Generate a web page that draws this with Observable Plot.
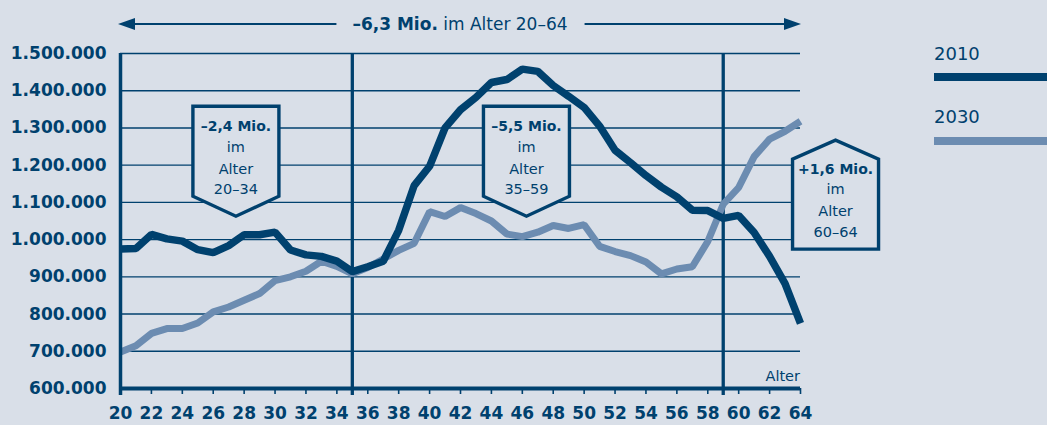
<!DOCTYPE html>
<html><head><meta charset="utf-8">
<script src="https://cdn.jsdelivr.net/npm/d3@7"></script>
<script src="https://cdn.jsdelivr.net/npm/@observablehq/plot@0.6"></script>
<style>
html,body{margin:0;padding:0;background:#d9dfe8;}
#chart svg{display:block;}
g[aria-label="x-axis tick label"], g[aria-label="y-axis tick label"]{font-weight:bold;font-size:17px;}
</style></head><body><div id="chart"></div>
<script>
// ---- data ----
const ages = [20,21,22,23,24,25,26,27,28,29,30,31,32,33,34,35,36,37,38,39,40,41,42,43,44,45,46,47,48,49,50,51,52,53,54,55,56,57,58,59,60,61,62,63,64];
const pop2010 = [975000,976000,1014000,1002000,996000,973000,965000,984000,1013000,1013000,1020000,972000,959000,955000,942000,914000,927000,942000,1025000,1145000,1197000,1300000,1349000,1382000,1422000,1430000,1458000,1452000,1414000,1385000,1355000,1305000,1240000,1207000,1172000,1141000,1115000,1079000,1078000,1057000,1065000,1019000,955000,882000,775000];
const pop2030 = [698000,715000,748000,761000,761000,776000,806000,819000,837000,855000,890000,900000,915000,942000,928000,908000,925000,948000,971000,990000,1075000,1062000,1086000,1070000,1050000,1015000,1008000,1020000,1038000,1030000,1040000,982000,968000,957000,940000,908000,921000,927000,995000,1095000,1140000,1223000,1270000,1291000,1318000];
const seriesNames = ["2010", "2030"];
const xTicks = [20,22,24,26,28,30,32,34,36,38,40,42,44,46,48,50,52,54,56,58,60,62,64];
const yTicks = [600000,700000,800000,900000,1000000,1100000,1200000,1300000,1400000,1500000];
const separators = [35, 59];
const totalBold = "–6,3 Mio.";
const totalRest = " im Alter 20–64";
const axisName = "Alter";
const boxHead = ["–2,4 Mio.", "–5,5 Mio.", "+1,6 Mio."];
const boxRange = ["20–34", "35–59", "60–64"];
const boxAge = [27.5, 46.3, 66.3];
const boxValue = [1357000, 1357000, 973000];
const boxPoint = ["down", "down", "up"];

// ---- style ----
const bg = "#d9dfe8", dark = "#00416e", light = "#6c8cb1";

const rows = ages.flatMap((a, i) => [
  {age: a, value: pop2010[i], series: seriesNames[0]},
  {age: a, value: pop2030[i], series: seriesNames[1]}
]);
const fmt = d3.formatLocale({decimal: ",", thousands: ".", grouping: [3], currency: ["", "€"]}).format(",d");

const chart = Plot.plot({
  width: 1047, height: 425,
  marginLeft: 120, marginRight: 247, marginTop: 53, marginBottom: 37,
  style: {background: bg, color: dark, fontFamily: "DejaVu Sans, sans-serif", overflow: "visible"},
  x: {domain: [20, 64]},
  y: {domain: [600000, 1500000]},
  marks: [
    Plot.ruleY(yTicks.slice(1), {stroke: dark, strokeWidth: 1.4}),
    Plot.ruleX(separators, {stroke: dark, strokeWidth: 3.3, insetBottom: -7}),
    Plot.axisX(xTicks, {tickSize: 6, tickPadding: 12, fontSize: 17, fontWeight: "bold", label: null, strokeWidth: 1.6}),
    Plot.axisY(yTicks, {tickSize: 0, tickPadding: 14, tickFormat: fmt, fontSize: 17, fontWeight: "bold", label: null}),
    Plot.line(rows.filter(d => d.series === seriesNames[1]), {x: "age", y: "value", stroke: light, strokeWidth: 7, strokeLinejoin: "miter", strokeLinecap: "butt"}),
    Plot.line(rows.filter(d => d.series === seriesNames[0]), {x: "age", y: "value", stroke: dark, strokeWidth: 7.5, strokeLinejoin: "miter", strokeLinecap: "butt"}),
    Plot.ruleX([20], {stroke: dark, strokeWidth: 3.5, insetBottom: -7}),
    Plot.ruleY([600000], {stroke: dark, strokeWidth: 4})
  ]
});
document.getElementById("chart").appendChild(chart);

const svg = d3.select(chart);
const sx = chart.scale("x"), sy = chart.scale("y");
const X = v => sx.apply(v), Y = v => sy.apply(v);
const ff = "DejaVu Sans, sans-serif";

// axis name
svg.append("text").attr("x", X(64)).attr("y", Y(600000) - 7).attr("text-anchor", "end")
  .attr("font-family", ff).attr("font-size", 14.5).attr("fill", dark).text(axisName);

// top arrow with total label
const xl = X(20), xr = X(64), ay = 24;
const t = svg.append("text").attr("x", (xl + xr) / 2).attr("y", 30).attr("text-anchor", "middle")
  .attr("font-family", ff).attr("font-size", 17).attr("fill", dark);
t.append("tspan").attr("font-weight", "bold").text(totalBold);
t.append("tspan").text(totalRest);
const bb = t.node().getBBox();
const ag = svg.append("g").attr("stroke", dark).attr("fill", dark);
ag.append("line").attr("x1", xl + 10).attr("x2", bb.x - 16).attr("y1", ay).attr("y2", ay).attr("stroke-width", 2);
ag.append("line").attr("x1", bb.x + bb.width + 17).attr("x2", xr - 10).attr("y1", ay).attr("y2", ay).attr("stroke-width", 2);
ag.append("path").attr("stroke", "none").attr("d", `M${xl - 2},${ay} L${xl + 15},${ay - 6} L${xl + 15},${ay + 6} Z`);
ag.append("path").attr("stroke", "none").attr("d", `M${xr + 1},${ay} L${xr - 16},${ay - 6} L${xr - 16},${ay + 6} Z`);

// legend
const lx = 934;
[[seriesNames[0], dark, 60, 77], [seriesNames[1], light, 123, 141]].forEach(([name, col, ty, ly]) => {
  svg.append("text").attr("x", lx).attr("y", ty).attr("text-anchor", "start").attr("font-family", ff).attr("font-size", 18)
    .attr("fill", dark).text(name);
  svg.append("rect").attr("x", lx).attr("y", ly - 4).attr("width", 1047 - lx).attr("height", 8).attr("fill", col);
});

// annotation boxes
const w = 86, h = 90, p = 20;
boxHead.forEach((head, i) => {
  const cx = X(boxAge[i]), ay0 = Y(boxValue[i]);
  const g = svg.append("g");
  let pts, top;
  if (boxPoint[i] === "down") {
    top = ay0;
    pts = [[cx - w/2, top], [cx + w/2, top], [cx + w/2, top + h], [cx, top + h + p], [cx - w/2, top + h]];
  } else {
    top = ay0 - h;
    pts = [[cx - w/2, ay0], [cx - w/2, top], [cx, top - p + 1], [cx + w/2, top], [cx + w/2, ay0]];
  }
  g.append("polygon").attr("points", pts.map(q => q.join(",")).join(" "))
    .attr("fill", bg).attr("stroke", dark).attr("stroke-width", 3.4).attr("stroke-linejoin", "miter");
  const offs = boxPoint[i] === "down" ? [25, 46, 68, 88] : [14.5, 35, 56.7, 77.7];
  const lines = [head, "im", "Alter", boxRange[i]];
  lines.forEach((s, k) => {
    g.append("text").attr("x", cx).attr("y", top + offs[k]).attr("text-anchor", "middle")
      .attr("font-family", ff).attr("font-size", k === 0 ? 14 : 14.5)
      .attr("font-weight", k === 0 ? "bold" : "normal").attr("fill", dark).text(s);
  });
});
</script></body></html>
